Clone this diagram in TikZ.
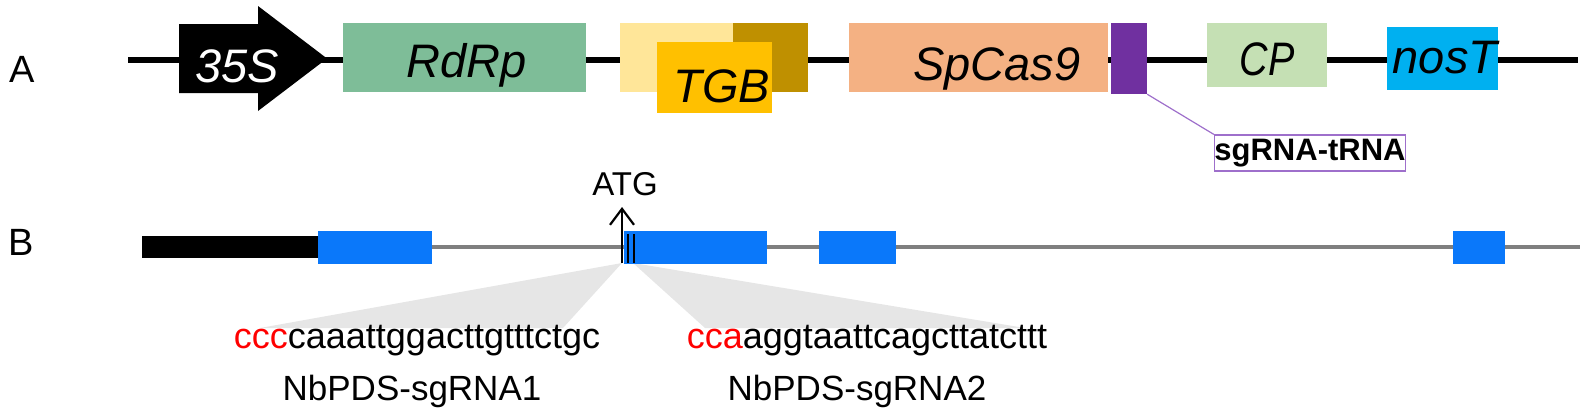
\documentclass[tikz,border=0pt]{standalone}
\usepackage{fontspec}
\setmainfont{Liberation Sans}
\newfontfamily\genefont{Liberation Sans}
\newfontfamily\narrowgene[FakeStretch=0.84]{Liberation Sans}
\usepackage{tikz}
\usetikzlibrary{positioning, arrows.meta}
\definecolor{rdrpgreen}{HTML}{7EBD98}
\definecolor{tgblight}{HTML}{FFE699}
\definecolor{tgbdark}{HTML}{BF9000}
\definecolor{tgbfront}{HTML}{FFC000}
\definecolor{casorange}{HTML}{F4B183}
\definecolor{spacerpurple}{HTML}{7030A0}
\definecolor{sgpurple}{HTML}{9E6FCB}
\definecolor{cpgreen}{HTML}{C5E0B4}
\definecolor{nosblue}{HTML}{00B0F0}
\definecolor{exonblue}{HTML}{0A78FA}
\definecolor{introngray}{HTML}{7F7F7F}
\definecolor{fangray}{HTML}{E6E6E6}
\newcommand*{\pam}[1]{\textcolor{red}{#1}}
\tikzset{
 panel/.style={inner sep=0pt, font=\fontsize{38}{42}\selectfont},
 genebox/.style={inner sep=0pt, draw=none},
 genelabel/.style={inner sep=0pt, anchor=base, font=\genefont\itshape\fontsize{47}{52}\selectfont},
 exon/.style={inner sep=0pt, draw=none, fill=exonblue, minimum height=33},
 seqtext/.style={inner sep=0pt, anchor=base, font=\fontsize{36}{40}\selectfont},
 sgname/.style={inner sep=0pt, anchor=base, font=\fontsize{35}{40}\selectfont}
}

\begin{document}
\begin{tikzpicture}[x=1pt, y=-1pt]
 \useasboundingbox (0,0) rectangle (1585,415);
 \node[panel] (labA) at (22,69) {A};
 \coordinate (startA) at (128,60);
 \coordinate (endA) at (1578,60);
 \draw[line width=6] (startA) -- (endA);
 \fill (179,24) -- (258,24) -- (258,6) -- (327,58.5) -- (258,111) -- (258,93) -- (179,93) -- cycle;
 \node[genelabel, text=white] (p35s) at (237,82) {35S};
 \node[genebox, fill=rdrpgreen, minimum width=243, minimum height=69] (rdrp) at (464.5,57.5) {};
 \node[genebox, fill=tgblight, minimum width=188, minimum height=69] (tgbback) at (714,57.5) {};
 \node[genebox, fill=tgbdark, minimum width=75, minimum height=69] (tgbdark) at (770.5,57.5) {};
 \node[genebox, fill=tgbfront, minimum width=115, minimum height=71] (tgb) at (714.5,77.5) {};
 \node[genebox, fill=casorange, minimum width=259, minimum height=69] (cas9) at (978.5,57.5) {};
 \node[genebox, fill=spacerpurple, minimum width=36, minimum height=71] (spacer) at (1129,58.5) {};
 \node[genebox, fill=cpgreen, minimum width=120, minimum height=64] (cp) at (1267,55) {};
 \node[genebox, fill=nosblue, minimum width=111, minimum height=63] (nost) at (1442.5,58.5) {};
 \node[genelabel] (rdrplab) at (467,77) {RdRp};
 \node[genelabel] (tgblab) at (722,102) {TGB};
 \node[genelabel] (cas9lab) at (997,80) {SpCas9};
 \node[genelabel, font=\narrowgene\itshape\fontsize{47}{52}\selectfont] (cplab) at (1267,75) {CP};
 \node[genelabel] (nostlab) at (1445,73) {nosT};
 \node[draw=sgpurple, line width=1.2, inner sep=0pt, minimum width=187, minimum height=36, font=\bfseries\fontsize{31}{34}\selectfont] (sgbox) at (1310,153) {sgRNA-tRNA};
 \draw[sgpurple, line width=1.2] (spacer.south east) -- (sgbox.north west);

 \node[panel] (labB) at (21,242) {B};
 \coordinate (apexL) at (622,263);
 \coordinate (apexR) at (633,263);
 \fill[fangray] (apexL) -- (260,328) -- (563,328) -- cycle;
 \fill[fangray] (apexR) -- (705,328) -- (1025,328) -- cycle;
 \coordinate (startB) at (318,247);
 \coordinate (endB) at (1580,247);
 \draw[introngray, line width=4] (startB) -- (endB);
 \node[inner sep=0pt, fill=black, minimum width=176, minimum height=22] (utr) at (230,246.5) {};
 \node[exon, minimum width=114] (ex1) at (375,247.5) {};
 \node[exon, minimum width=143] (ex2) at (695.5,247.5) {};
 \node[exon, minimum width=77] (ex3) at (857.5,247.5) {};
 \node[exon, minimum width=52] (ex4) at (1479,247.5) {};
 \node[inner sep=0pt, font=\fontsize{33}{36}\selectfont] (atg) at (625,184) {ATG};
 \coordinate (atgbase) at (622,263);
 \coordinate (atgtip) at (622,207);
 \draw[line width=2.2, -{Straight Barb[length=16, width=24, line width=2.2]}] (atgbase) -- (atgtip);
 \draw[line width=2.2] (628,234) -- (628,263);
 \draw[line width=2.2] (634,234) -- (634,263);
 \node[seqtext] (seq1) at (417,348) {\pam{ccc}caaattggacttgtttctgc};
 \node[sgname] (name1) at (412,400) {NbPDS-sgRNA1};
 \node[seqtext] (seq2) at (867,348) {\pam{cca}aggtaattcagcttatcttt};
 \node[sgname] (name2) at (857,400) {NbPDS-sgRNA2};
\end{tikzpicture}
\end{document}
